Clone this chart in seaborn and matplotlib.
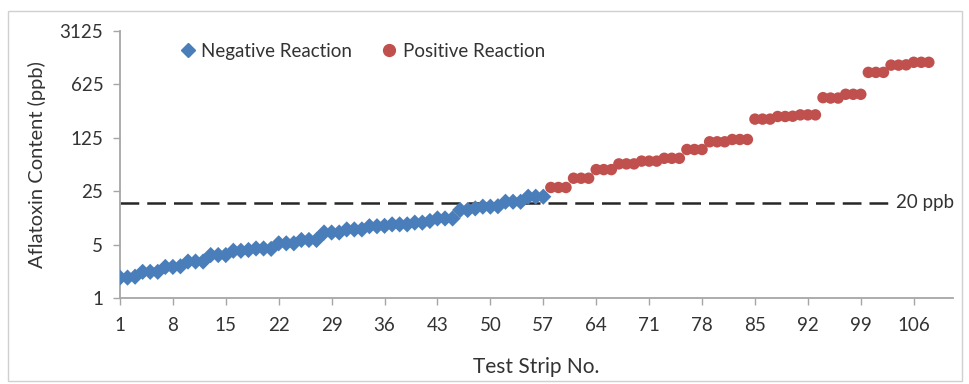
import numpy as np
import pandas as pd
import matplotlib
matplotlib.use("Agg")
import matplotlib.pyplot as plt
from matplotlib.lines import Line2D
from matplotlib.patches import Rectangle
import seaborn as sns

# aflatoxin content (ppb), in test strip order
negative_ppb = [1.85, 1.85, 1.9, 2.2, 2.2, 2.2, 2.55, 2.55, 2.6, 3.0, 3.0, 3.0,
                3.65, 3.65, 3.65, 4.15, 4.15, 4.25, 4.45, 4.45, 4.4, 5.2, 5.2, 5.2,
                5.75, 5.75, 5.75, 7.2, 7.2, 7.2, 7.9, 7.9, 7.9, 8.7, 8.7, 8.8,
                9.2, 9.2, 9.2, 9.7, 9.7, 10.2, 11.0, 11.0, 11.0, 14.2, 14.2, 14.9,
                15.7, 15.7, 15.9, 18.2, 18.2, 18.2, 21.2, 21.2, 21.2]
positive_ppb = [28, 28, 28, 37, 37, 37, 48, 48, 48, 57, 57, 57, 62, 62, 62,
                67.5, 67.5, 67.5, 88, 88, 88, 111, 111, 111, 119, 119, 119,
                220, 220, 220, 238, 238, 240, 250, 250, 250, 420, 415, 415,
                465, 465, 465, 900, 900, 900, 1120, 1120, 1130, 1220, 1220, 1220]
series_names = ["Negative Reaction", "Positive Reaction"]
y_ticks = [1, 5, 25, 125, 625, 3125]
x_ticks = [1, 8, 15, 22, 29, 36, 43, 50, 57, 64, 71, 78, 85, 92, 99, 106]
threshold_line = 17.6   # where the "20 ppb" line sits in the picture
threshold_label = "20 ppb"

n_neg = len(negative_ppb)
n_all = n_neg + len(positive_ppb)
df = pd.DataFrame({
    "strip": list(range(1, n_all + 1)),
    "ppb": negative_ppb + positive_ppb,
    "reaction": [series_names[0]] * n_neg + [series_names[1]] * len(positive_ppb),
})

sns.set_style("white")
plt.rcParams["font.family"] = ["Lato", "DejaVu Sans"]
text_col = "#333333"
blue = "#4a7ebb"
red = "#c0504d"

fig = plt.figure(figsize=(9.69, 3.84), dpi=100)
ax = fig.add_axes([0.1238, 0.224, 0.8597, 0.695])

sns.scatterplot(data=df, x="strip", y="ppb", hue="reaction", style="reaction",
                palette={series_names[0]: blue, series_names[1]: red},
                markers={series_names[0]: "D", series_names[1]: "o"},
                s=68, linewidth=0, legend=False, ax=ax, zorder=3)

ax.set_yscale("log", base=5)
ax.set_ylim(1, 3125)
ax.set_yticks(y_ticks)
ax.set_yticklabels([str(v) for v in y_ticks])
ax.yaxis.set_minor_locator(matplotlib.ticker.NullLocator())
ax.set_xlim(1, 111.2)
ax.set_xticks(x_ticks)
ax.set_xticklabels([str(v) for v in x_ticks])

for side in ["top", "right"]:
    ax.spines[side].set_visible(False)
for side in ["left", "bottom"]:
    ax.spines[side].set_color("#a6a6a6")
    ax.spines[side].set_linewidth(1.3)
ax.tick_params(axis="y", direction="out", length=5, width=1, color="#a6a6a6",
               labelsize=13.5, labelcolor=text_col, pad=7, left=True)
ax.tick_params(axis="x", direction="out", length=5, width=1, color="#a6a6a6",
               labelsize=13.5, labelcolor=text_col, pad=9, bottom=True)

ax.set_xlabel("Test Strip No.", fontsize=15, color=text_col, labelpad=16)
ax.set_ylabel("Aflatoxin Content (ppb)", fontsize=14.5, color=text_col, labelpad=10)

ax.axhline(threshold_line, xmin=0, xmax=0.924, color="#262626", lw=1.8,
           dashes=(7.5, 3.2), zorder=2)
ax.text(0.932, threshold_line, threshold_label, transform=ax.get_yaxis_transform(),
        va="center", ha="left", fontsize=13.5, color=text_col, clip_on=False)

handles = [Line2D([], [], marker="D", ls="", color=blue, markersize=7),
           Line2D([], [], marker="o", ls="", color=red, markersize=8.5)]
leg = ax.legend(handles, series_names, loc="center left", bbox_to_anchor=(0.05, 0.925),
                ncol=2, frameon=False, fontsize=13.5, handletextpad=0.2,
                columnspacing=1.5, handlelength=1.0)
for t in leg.get_texts():
    t.set_color(text_col)

fig.patches.append(Rectangle((0.008, 0.008), 0.985, 0.963, transform=fig.transFigure,
                             fill=False, edgecolor="#d0d0d0", lw=1))

fig.savefig("out.png", dpi=100)
